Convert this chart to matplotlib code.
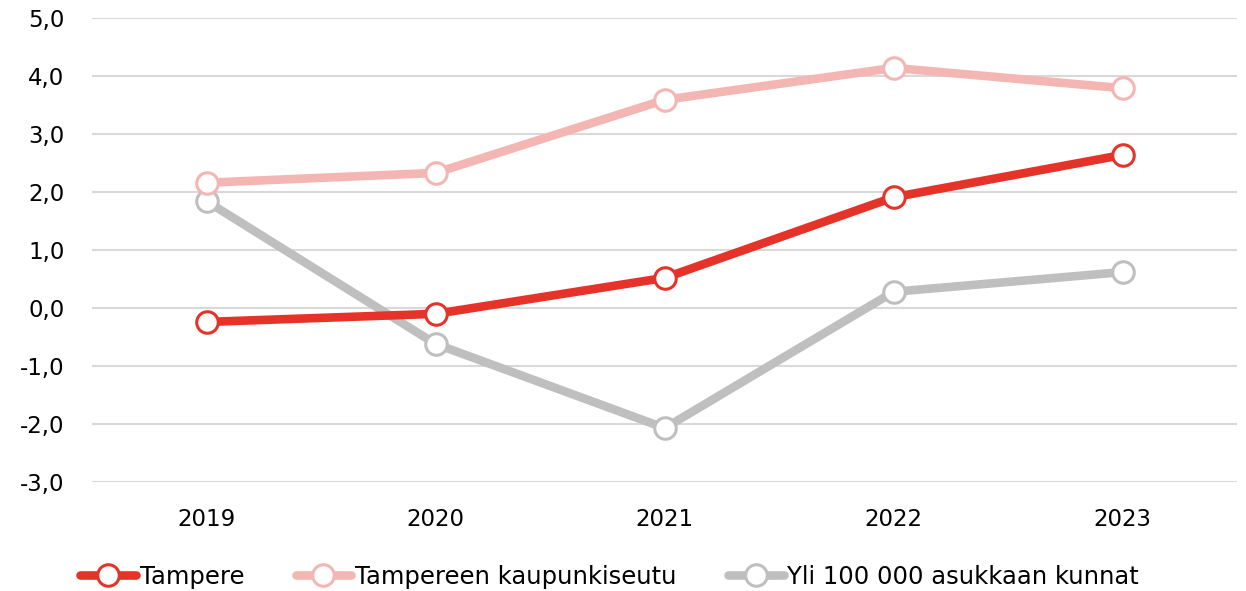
import matplotlib.pyplot as plt
import numpy as np

# Vuodet ja sarjat
vuodet = ['2019', '2020', '2021', '2022', '2023']
tampere = [-0.24, -0.10, 0.52, 1.91, 2.64]
kaupunkiseutu = [2.16, 2.33, 3.59, 4.14, 3.79]
yli_100000 = [1.84, -0.62, -2.07, 0.28, 0.62]

sarjat = [
    ('Tampere', tampere, '#E5332A'),
    ('Tampereen kaupunkiseutu', kaupunkiseutu, '#F4B6B3'),
    ('Yli 100 000 asukkaan kunnat', yli_100000, '#BFBFBF'),
]

plt.rcParams['font.family'] = ['DejaVu Sans']

fig = plt.figure(figsize=(12.46, 5.91), dpi=100)
ax = fig.add_axes([0.074, 0.1844, 0.919, 0.7851])

x = np.arange(len(vuodet))
# piirretään harmaa ensin, jotta punainen jää päälle
for nimi, arvot, vari in reversed(sarjat):
    ax.plot(x, arvot, color=vari, linewidth=6.2, marker='o', markersize=15.5,
            markerfacecolor='white', markeredgecolor=vari, markeredgewidth=2.2,
            label=nimi, solid_capstyle='round', zorder=3)

ax.set_xlim(-0.5, len(vuodet) - 0.5)
ax.set_ylim(-3, 5)
ax.set_yticks(np.arange(-3, 6, 1))
ax.set_yticklabels([f'{v:.1f}'.replace('.', ',') for v in np.arange(-3, 6, 1)])
ax.set_xticks(x)
ax.set_xticklabels(vuodet)
ax.grid(axis='y', color='#D9D9D9', linewidth=1.5)
ax.set_axisbelow(True)
for s in ax.spines.values():
    s.set_visible(False)
ax.tick_params(axis='both', length=0, labelsize=16.5)
ax.tick_params(axis='y', pad=20)
ax.tick_params(axis='x', pad=19)

handles, labels = ax.get_legend_handles_labels()
handles, labels = handles[::-1], labels[::-1]
fig.legend(handles, labels, loc='lower left', bbox_to_anchor=(0.047, -0.033),
           ncol=3, frameon=False, fontsize=17.5, handlelength=2.3,
           handletextpad=0.15, columnspacing=2.1)

fig.savefig('out.png', dpi=100)
